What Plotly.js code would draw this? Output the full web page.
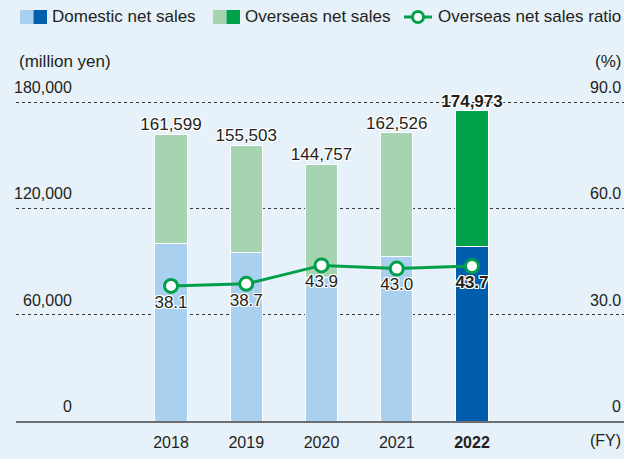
<!DOCTYPE html>
<html><head><meta charset="utf-8">
<script src="https://cdn.plot.ly/plotly-3.0.1.min.js"></script>
<style>html,body{margin:0;padding:0;background:#e6f1fa;}</style>
</head><body>
<div id="chart" style="width:624px;height:459px;"></div>
<script>
// ---- data ----
const years = ['2018', '2019', '2020', '2021', '2022'];
const yearLabels = ['2018', '2019', '2020', '2021', '<b>2022</b>'];
const domesticSales = [100030, 95320, 81210, 92640, 98510];
const overseasSales = [61569, 60183, 63547, 69886, 76463];
const totalSales = [161599, 155503, 144757, 162526, 174973];
const overseasRatio = [38.1, 38.7, 43.9, 43.0, 43.7];
const leftTickVals = [0, 60000, 120000, 180000];
const leftTickText = ['0', '60,000', '120,000', '180,000'];
const rightTickVals = [0, 30, 60, 90];
const rightTickText = ['0', '30.0', '60.0', '90.0'];

// ---- styling ----
const FONT = "'Liberation Sans', Arial, sans-serif";
const TXT = '#231f20';
const BG = '#e6f1fa';
const halo = '1px 1px 0 #fff, -1px -1px 0 #fff, 1px -1px 0 #fff, -1px 1px 0 #fff, 0 1px 0 #fff, 0 -1px 0 #fff, 1px 0 0 #fff, -1px 0 0 #fff';
const W = 624, H = 459, ML = 16, MR = 0, MT = 92, MB = 38;
const PW = W - ML - MR, PH = H - MT - MB;
const BASE = H - MB;               // pixel row of zero
const PX180 = 319;                 // pixels from zero to 180,000
const yMax = 180000 * PH / PX180;
const y2Max = 90 * PH / PX180;
const px = x => (x - ML) / PW;
const py = y => (BASE - y) / PH;

const lastBold = (arr, fmt) => arr.map((v, i) => i === arr.length - 1 ? '<b>' + fmt(v) + '</b>' : fmt(v));
const fmtInt = v => v.toLocaleString('en-US');
const fmt1 = v => v.toFixed(1);

const domColors = ['#a9d0ef', '#a9d0ef', '#a9d0ef', '#a9d0ef', '#005ead'];
const ovsColors = ['#a6d4b0', '#a6d4b0', '#a6d4b0', '#a6d4b0', '#00a24a'];
const GREEN = '#00a04a';
const NUM = 16, LBL = 17;

const traces = [
  { type: 'bar', x: years, y: domesticSales, width: 0.43, name: 'Domestic net sales',
    marker: { color: domColors, line: { color: '#ffffff', width: 1 } }, hoverinfo: 'y' },
  { type: 'bar', x: years, y: overseasSales, width: 0.43, name: 'Overseas net sales',
    marker: { color: ovsColors, line: { color: '#ffffff', width: 1 } }, hoverinfo: 'y' },
  { type: 'scatter', mode: 'text', x: years, y: totalSales, text: lastBold(totalSales, fmtInt),
    textposition: 'top center', cliponaxis: false, hoverinfo: 'skip',
    textfont: { family: FONT, size: 17, color: TXT, shadow: halo } },
  { type: 'scatter', mode: 'lines+markers+text', x: years, y: overseasRatio, yaxis: 'y2',
    name: 'Overseas net sales ratio', text: lastBold(overseasRatio, fmt1), textposition: 'bottom center',
    cliponaxis: false,
    line: { color: GREEN, width: 3 },
    marker: { size: 13, color: '#ffffff', line: { color: GREEN, width: 3 } },
    textfont: { family: FONT, size: 17, color: TXT, shadow: halo } }
];

const annotations = [];
leftTickVals.forEach((v, i) => annotations.push({
  xref: 'paper', yref: 'y', x: px(74), y: v, xanchor: 'right', yanchor: 'bottom', yshift: 4,
  text: leftTickText[i], showarrow: false, font: { family: FONT, size: NUM, color: TXT } }));
rightTickVals.forEach((v, i) => annotations.push({
  xref: 'paper', yref: 'y2', x: px(623), y: v, xanchor: 'right', yanchor: 'bottom', yshift: 4,
  text: rightTickText[i], showarrow: false, font: { family: FONT, size: NUM, color: TXT } }));
annotations.push({ xref: 'paper', yref: 'paper', x: px(17), y: py(62), xanchor: 'left', yanchor: 'middle',
  text: '(million yen)', showarrow: false, font: { family: FONT, size: LBL, color: TXT } });
annotations.push({ xref: 'paper', yref: 'paper', x: px(623), y: py(62), xanchor: 'right', yanchor: 'middle',
  text: '(%)', showarrow: false, font: { family: FONT, size: LBL, color: TXT } });
annotations.push({ xref: 'paper', yref: 'paper', x: px(623), y: py(440), xanchor: 'right', yanchor: 'middle',
  text: '(FY)', showarrow: false, font: { family: FONT, size: NUM, color: TXT } });
// legend texts
[['Domestic net sales', 50], ['Overseas net sales', 243], ['Overseas net sales ratio', 436]].forEach(([t, x]) =>
  annotations.push({ xref: 'paper', yref: 'paper', x: px(x), y: py(17), xanchor: 'left', yanchor: 'middle',
    text: t, showarrow: false, font: { family: FONT, size: LBL, color: TXT } }));

const shapes = [
  { type: 'rect', xref: 'paper', yref: 'paper', x0: px(20), x1: px(33.5), y0: py(24), y1: py(10), fillcolor: '#a9d0ef', line: { width: 0 } },
  { type: 'rect', xref: 'paper', yref: 'paper', x0: px(33.5), x1: px(47), y0: py(24), y1: py(10), fillcolor: '#005ead', line: { width: 0 } },
  { type: 'rect', xref: 'paper', yref: 'paper', x0: px(213), x1: px(226.5), y0: py(24), y1: py(10), fillcolor: '#a6d4b0', line: { width: 0 } },
  { type: 'rect', xref: 'paper', yref: 'paper', x0: px(226.5), x1: px(240), y0: py(24), y1: py(10), fillcolor: '#00a24a', line: { width: 0 } },
  { type: 'line', xref: 'paper', yref: 'paper', x0: px(404), x1: px(432), y0: py(17), y1: py(17), line: { color: GREEN, width: 3 } },
  { type: 'circle', xref: 'paper', yref: 'paper', x0: px(412.5), x1: px(423.5), y0: py(22.5), y1: py(11.5), fillcolor: '#ffffff', line: { color: GREEN, width: 3 } }
];

const layout = {
  width: W, height: H,
  margin: { l: ML, r: MR, t: MT, b: MB, pad: 0 },
  paper_bgcolor: BG, plot_bgcolor: BG,
  showlegend: false,
  barmode: 'stack',
  font: { family: FONT, color: TXT },
  xaxis: {
    type: 'category', range: [-2.06, 6.02], fixedrange: true,
    tickvals: years, ticktext: yearLabels, ticks: '', ticklabelstandoff: 6,
    tickfont: { family: FONT, size: NUM, color: TXT },
    showline: true, linecolor: '#6d6e71', linewidth: 1.5, showgrid: false, zeroline: false
  },
  yaxis: {
    range: [0, yMax], tickvals: leftTickVals, showticklabels: false, ticks: '',
    showgrid: true, gridcolor: '#3a3a3a', griddash: 'dot', gridwidth: 1, zeroline: false
  },
  yaxis2: {
    range: [0, y2Max], overlaying: 'y', side: 'right', showticklabels: false, ticks: '',
    showgrid: false, zeroline: false
  },
  annotations: annotations,
  shapes: shapes
};

Plotly.newPlot('chart', traces, layout, { displayModeBar: false, staticPlot: true });
</script>
</body></html>
